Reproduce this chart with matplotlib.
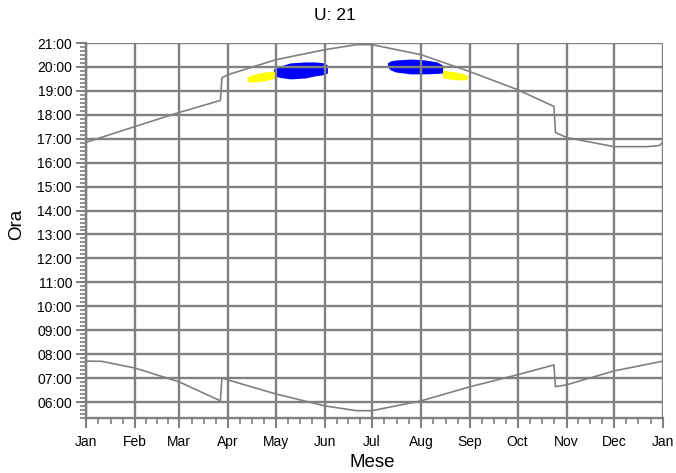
import matplotlib
matplotlib.use("Agg")
import matplotlib.pyplot as plt
import numpy as np
from matplotlib.ticker import FixedLocator, FuncFormatter

plt.rcParams['font.family'] = ['Liberation Sans', 'DejaVu Sans']

# giorni dell'anno (0 = 1 gen) e ore
mesi = ['Jan', 'Feb', 'Mar', 'Apr', 'May', 'Jun', 'Jul', 'Aug', 'Sep', 'Oct', 'Nov', 'Dec', 'Jan']
inizio_mesi = [0, 31, 59, 90, 120, 151, 181, 212, 243, 273, 304, 334, 365]

giorni_tramonto = [0, 31, 59, 85, 86, 90, 120, 151, 171, 181, 212, 243, 273, 296, 297, 304, 334, 355, 363, 365]
ore_tramonto = [16.85, 17.51, 18.10, 18.60, 19.55, 19.68, 20.30, 20.72, 20.93, 20.93, 20.51, 19.80,
                19.05, 18.35, 17.26, 17.05, 16.67, 16.67, 16.72, 16.88]

giorni_alba = [0, 10, 31, 59, 85, 86, 90, 120, 151, 171, 181, 212, 243, 273, 296, 297, 304, 334, 365]
ore_alba = [7.71, 7.70, 7.42, 6.84, 6.05, 7.00, 6.92, 6.34, 5.84, 5.64, 5.64, 6.05, 6.64, 7.14,
            7.55, 6.64, 6.72, 7.30, 7.71]

# zone di abbagliamento
blu1_giorni = [118.5, 120.5, 122.9, 129.3, 138.8, 145.1, 150.5, 152.7]
blu1_sup = [19.90, 19.98, 20.04, 20.17, 20.21, 20.21, 20.17, 20.08]
blu1_inf = [19.67, 19.60, 19.56, 19.50, 19.54, 19.63, 19.68, 19.75]

giallo1_giorni = [102.0, 103.5, 107.1, 113.4, 119.8]
giallo1_sup = [19.58, 19.64, 19.71, 19.79, 19.83]
giallo1_inf = [19.40, 19.37, 19.37, 19.42, 19.54]

blu2_giorni = [190.7, 192.5, 195.8, 205.3, 214.8, 222.0, 225.6]
blu2_sup = [20.17, 20.25, 20.29, 20.33, 20.29, 20.21, 20.08]
blu2_inf = [20.02, 19.88, 19.79, 19.71, 19.71, 19.73, 19.75]

giallo2_giorni = [225.6, 228.0, 233.8, 239.5, 241.4]
giallo2_sup = [19.875, 19.84, 19.79, 19.70, 19.63]
giallo2_inf = [19.56, 19.52, 19.46, 19.46, 19.50]

grigio = '#808080'

fig = plt.figure(figsize=(6.76, 4.73), dpi=100)
ax = fig.add_axes([86/676, 55/473, 577/676, 375/473])

ax.fill_between(blu1_giorni, blu1_inf, blu1_sup, color='#0000ff', lw=0, zorder=1)
ax.fill_between(blu2_giorni, blu2_inf, blu2_sup, color='#0000ff', lw=0, zorder=1)
ax.fill_between(giallo1_giorni, giallo1_inf, giallo1_sup, color='#ffff00', lw=0, zorder=1)
ax.fill_between(giallo2_giorni, giallo2_inf, giallo2_sup, color='#ffff00', lw=0, zorder=1)

ax.plot(giorni_tramonto, ore_tramonto, color=grigio, lw=1.2, zorder=3)
ax.plot(giorni_alba, ore_alba, color=grigio, lw=1.2, zorder=3)

ax.set_xlim(0, 365)
ax.set_ylim(5 + 1/3, 21)

# tick asse x: mesi + quarti di mese
ax.xaxis.set_major_locator(FixedLocator(inizio_mesi))
ax.set_xticklabels(mesi, fontsize=10)
minori_x = []
for a, b in zip(inizio_mesi[:-1], inizio_mesi[1:]):
    minori_x += [a + (b - a) * q / 4 for q in (1, 2, 3)]
ax.xaxis.set_minor_locator(FixedLocator(minori_x))

# tick asse y: ore + ogni 10 minuti
ax.yaxis.set_major_locator(FixedLocator(np.arange(6, 22)))
ax.yaxis.set_minor_locator(FixedLocator(np.arange(5 + 2/6, 21, 1/6)))
ax.yaxis.set_major_formatter(FuncFormatter(lambda v, p: '%02d:00' % int(round(v))))
ax.tick_params(axis='y', labelsize=10)

ax.tick_params(which='major', length=7, width=1.5, color=grigio, pad=3)
ax.tick_params(axis='x', which='major', pad=5)
ax.tick_params(which='minor', length=4, width=1.2, color=grigio)

ax.grid(True, which='major', color=grigio, lw=1.7)
ax.set_axisbelow(False)
for s in ['top', 'right']:
    ax.spines[s].set_visible(False)
for s in ['left', 'bottom']:
    ax.spines[s].set_color(grigio)
    ax.spines[s].set_linewidth(1.7)

ax.set_xlabel('Mese', fontsize=13.5)
ax.xaxis.set_label_coords(0.496, -0.095)
ax.set_ylabel('Ora', fontsize=13.5)
ax.yaxis.set_label_coords(-0.105, 0.517)
fig.text(0.495, 0.968, 'U: 21', ha='center', va='center', fontsize=12.5)

fig.savefig('out.png', dpi=100)
